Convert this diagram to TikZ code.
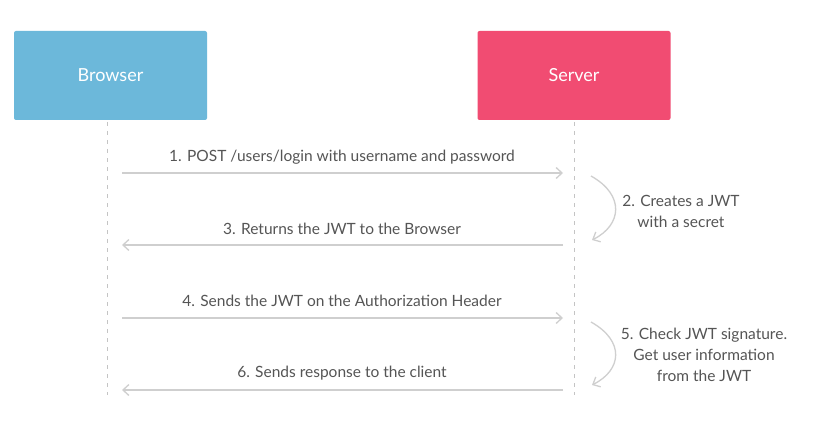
\documentclass[tikz,border=0pt]{standalone}
\usepackage{fontspec}
\setmainfont{Lato}
\usetikzlibrary{arrows.meta}
\definecolor{browserblue}{HTML}{6CB8DA}
\definecolor{serverred}{HTML}{F14C72}
\definecolor{linegray}{HTML}{CFCFCF}
\definecolor{dashgray}{HTML}{C4C4C4}
\definecolor{txtgray}{HTML}{555555}
\begin{document}
\begin{tikzpicture}[x=1pt,y=-1pt,
  actor/.style={minimum width=193pt,minimum height=89pt,rounded corners=2pt,
    text=white,font=\fontsize{18}{21}\selectfont,inner sep=0pt},
  lifeline/.style={dashgray,dash pattern=on 4pt off 5pt,line width=0.9pt},
  msg/.style={linegray,line width=1.3pt,-{Straight Barb[length=6pt,width=11pt]}},
  msglabel/.style={text=txtgray,font=\fontsize{15.5}{18}\selectfont,inner sep=0pt},
  notelabel/.style={text=txtgray,font=\fontsize{15.5}{21}\selectfont,align=center,inner sep=0pt}]
\useasboundingbox (0,0) rectangle (815,428);
\fill[white] (0,0) rectangle (815,428);
\node[actor,fill=browserblue] (browser) at (110.5,75.5) {Browser};
\node[actor,fill=serverred] (server) at (574,75.5) {Server};
\coordinate (bend) at (107,395);
\coordinate (send) at (574,395);
\draw[lifeline] (107,122) -- (bend);
\draw[lifeline] (574,122) -- (send);
% message endpoints
\coordinate (b1) at (122,173); \coordinate (s1) at (563,173);
\coordinate (b3) at (122,245); \coordinate (s3) at (563,245);
\coordinate (b4) at (122,318); \coordinate (s4) at (563,318);
\coordinate (b6) at (122,390); \coordinate (s6) at (563,390);
\draw[msg] (b1) -- (s1);
\node[msglabel] (l1) at (342,157) {1. POST /users/login with username and password};
\draw[msg] (s3) -- (b3);
\node[msglabel] (l3) at (342,229) {3. Returns the JWT to the Browser};
\draw[msg] (b4) -- (s4);
\node[msglabel] (l4) at (342,301) {4. Sends the JWT on the Authorization Header};
\draw[msg] (s6) -- (b6);
\node[msglabel] (l6) at (342,373) {6. Sends response to the client};
% self processing
\coordinate (c2a) at (591,176); \coordinate (c2b) at (592,240);
\coordinate (c5a) at (591,322); \coordinate (c5b) at (592,385);
\draw[msg] (c2a) .. controls (625,195) and (622,225) .. (c2b);
\draw[msg] (c5a) .. controls (625,341) and (622,370) .. (c5b);
\node[notelabel] (n2) at (681,211) {2. Creates a JWT\\with a secret};
\node[notelabel] (n5) at (704,355) {5. Check JWT signature.\\Get user information\\from the JWT};
\end{tikzpicture}
\end{document}
